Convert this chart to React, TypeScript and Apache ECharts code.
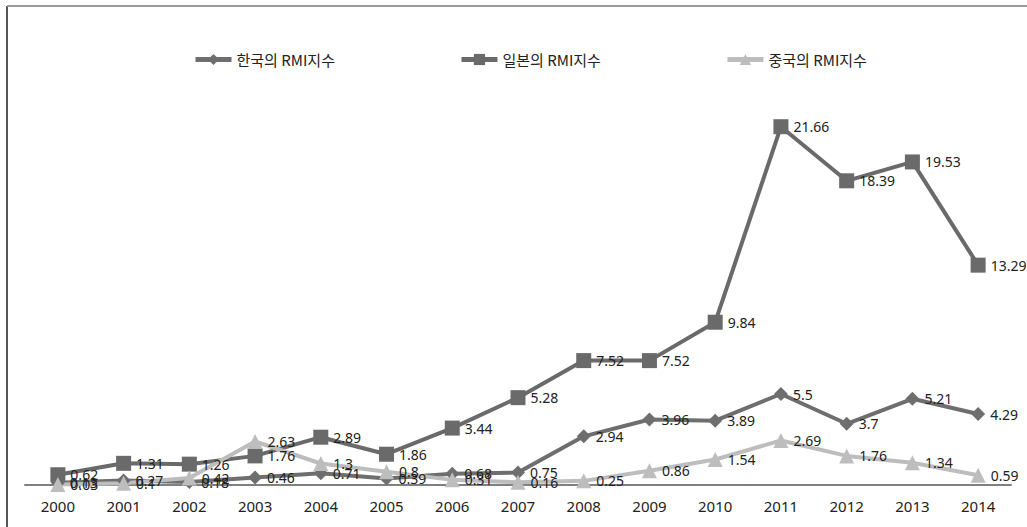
import React, { useEffect, useRef } from "react";
import * as echarts from "echarts";

const years = ["2000","2001","2002","2003","2004","2005","2006","2007","2008","2009","2010","2011","2012","2013","2014"];
const korea = [0.13, 0.27, 0.18, 0.46, 0.71, 0.39, 0.68, 0.75, 2.94, 3.96, 3.89, 5.5, 3.7, 5.21, 4.29];
const japan = [0.62, 1.31, 1.26, 1.76, 2.89, 1.86, 3.44, 5.28, 7.52, 7.52, 9.84, 21.66, 18.39, 19.53, 13.29];
const china = [0.03, 0.1, 0.42, 2.63, 1.3, 0.8, 0.31, 0.16, 0.25, 0.86, 1.54, 2.69, 1.76, 1.34, 0.59];
const names = ["한국의 RMI지수", "일본의 RMI지수", "중국의 RMI지수"];

export default function App() {
  const ref = useRef<HTMLDivElement>(null);
  useEffect(() => {
    const chart = echarts.init(ref.current!, null, { renderer: "svg" });
    const font = "'Noto Sans', sans-serif";
    const label = { show: true, position: "right", fontSize: 14, color: "#222", fontFamily: font, distance: 5 };
    const mk = (name: string, data: number[], color: string, symbol: string, size: number) => ({
      name, type: "line", data, symbol, symbolSize: size,
      lineStyle: { color, width: 4 }, itemStyle: { color },
      label, z: 2,
    });
    chart.setOption({
      animation: false,
      backgroundColor: "#fff",
      legend: {
        top: 47, left: 188, itemGap: 124, itemWidth: 36, itemHeight: 14,
        lineStyle: { width: 5 },
        textStyle: { fontSize: 15, color: "#222", fontFamily: "'Noto Sans CJK KR', sans-serif" },
        data: names,
      },
      grid: { left: 25, right: 16, top: 88, bottom: 42 },
      xAxis: {
        type: "category", data: years, boundaryGap: true,
        axisLine: { lineStyle: { color: "#808080", width: 2 } },
        axisTick: { show: false },
        axisLabel: { fontSize: 15, color: "#222", fontFamily: font, margin: 13 },
      },
      yAxis: { type: "value", min: 0, max: 24, show: false, splitLine: { show: false } },
      series: [
        mk(names[0], korea, "#6e6e6e", "diamond", 14),
        mk(names[1], japan, "#6a6a6a", "rect", 15),
        mk(names[2], china, "#bdbdbd", "triangle", 15),
      ],
      graphic: [
        { type: "line", shape: { x1: 7, y1: 6, x2: 7, y2: 527 }, style: { stroke: "#555", lineWidth: 2 } },
        { type: "line", shape: { x1: 7, y1: 6, x2: 1027, y2: 6 }, style: { stroke: "#999", lineWidth: 2 } },
      ],
    });
    return () => chart.dispose();
  }, []);
  return <div ref={ref} style={{ position: "fixed", left: 0, top: 0, width: 1027, height: 527 }} />;
}
